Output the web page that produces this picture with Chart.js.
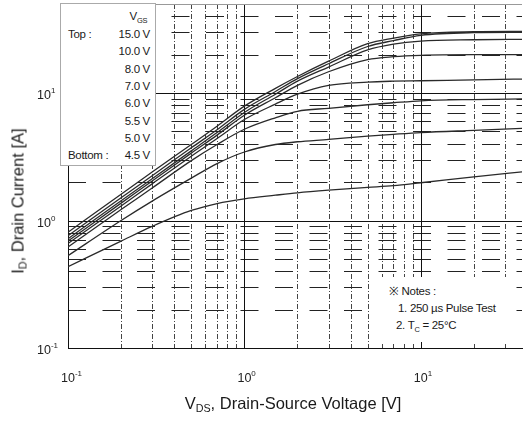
<!DOCTYPE html>
<html>
<head>
<meta charset="utf-8">
<script src="https://cdn.jsdelivr.net/npm/chart.js@4.4.0/dist/chart.umd.min.js"></script>
<style>
body { margin: 0; background: #fff; }
#wrap { position: relative; width: 523px; height: 421px; overflow: hidden;
        font-family: "Liberation Sans", Arial, sans-serif; color: #1a1a1a; }
#chart { position: absolute; left: 0; top: 0; }
#legendBox { position: absolute; left: 60px; top: 3px; width: 94px; height: 161px;
             background: #fff; border: 1px solid #aaa; font-size: 11.5px; letter-spacing: -0.3px; }
#legendBox .row { position: absolute; left: 0; width: 89px; height: 16px; line-height: 16px; }
#legendBox .name { position: absolute; left: 7px; }
#legendBox .val { position: absolute; right: 0; }
#notes { position: absolute; left: 378px; top: 277px; width: 130px; height: 65px;
         background: #fff; font-size: 11.5px; letter-spacing: -0.3px; line-height: 16.5px; }
#notes div { position: absolute; white-space: nowrap; }
sub { font-size: 65%; vertical-align: -3px; line-height: 0; }
#ytitle { position: absolute; left: 18px; top: 201px; white-space: nowrap; font-size: 16.5px;
          transform: translate(-50%, -50%) rotate(-90deg); }
#xtitle { position: absolute; left: 293px; top: 403px; white-space: nowrap; font-size: 16.5px;
          transform: translate(-50%, -50%); }
</style>
</head>
<body>
<div id="wrap">
  <canvas id="chart" width="523" height="421"></canvas>
  <div id="legendBox"></div>
  <div id="notes">
    <div style="left:11px;top:6px">※ Notes :</div>
    <div style="left:20px;top:23px">1. 250 µs Pulse Test</div>
    <div style="left:18px;top:40px">2. T<sub>C</sub> = 25°C</div>
  </div>
  <div id="ytitle">I<sub>D</sub>, Drain Current [A]</div>
  <div id="xtitle">V<sub>DS</sub>, Drain-Source Voltage [V]</div>
</div>
<script>
const vds = [0.1, 0.2, 0.3, 0.5, 0.7, 1, 1.5, 2, 3, 5, 7, 10, 20, 40];

// ID (A) for each VGS
const id150 = [0.81, 1.61, 2.4, 3.95, 5.5, 7.9, 10.9, 13.5, 17.8, 24.4, 27.0, 29.2, 30.3, 30.5];
const id100 = [0.76, 1.51, 2.25, 3.72, 5.15, 7.45, 10.3, 13.0, 17.0, 23.2, 25.8, 28.4, 29.8, 30.0];
const id80  = [0.72, 1.43, 2.13, 3.52, 4.9, 7.05, 9.8, 12.4, 16.0, 21.8, 24.2, 25.6, 26.2, 26.4];
const id70  = [0.69, 1.37, 2.04, 3.38, 4.68, 6.7, 9.2, 11.5, 14.7, 18.3, 19.3, 19.8, 20.0, 20.0];
const id60  = [0.66, 1.3, 1.94, 3.2, 4.4, 6.2, 8.2, 9.8, 11.5, 12.2, 12.4, 12.5, 12.7, 12.9];
const id55  = [0.62, 1.22, 1.8, 2.95, 3.95, 5.2, 6.4, 7.2, 7.6, 8.1, 8.4, 8.7, 8.9, 9.0];
const id50  = [0.53, 1.0, 1.42, 2.15, 2.8, 3.45, 3.95, 4.15, 4.33, 4.6, 4.75, 4.9, 5.1, 5.3];
const id45  = [0.435, 0.69, 0.9, 1.2, 1.36, 1.48, 1.58, 1.65, 1.73, 1.82, 1.88, 1.98, 2.2, 2.43];

const vgsLabels = ['15.0 V', '10.0 V', '8.0 V', '7.0 V', '6.0 V', '5.5 V', '5.0 V', '4.5 V'];
const series = [id150, id100, id80, id70, id60, id55, id50, id45];

// axis ticks
const xDecades = [0.1, 1, 10];
const yDecades = [0.1, 1, 10];
const xMinor = [0.2, 0.3, 0.4, 0.5, 0.6, 0.7, 0.8, 0.9, 2, 3, 4, 5, 6, 7, 8, 9, 20, 30];
const yMinor = [0.2, 0.3, 0.4, 0.5, 0.6, 0.7, 0.8, 0.9, 2, 3, 4, 5, 6, 7, 8, 9, 20, 30, 40];
const exps = { 0.1: '-1', 1: '0', 10: '1' };

// legend box rows
const legendBox = document.getElementById('legendBox');
legendBox.innerHTML = '<div class="row" style="top:4px"><span class="val">V<sub>GS</sub>&nbsp;</span></div>' +
    vgsLabels.map((lbl, i) => {
        let name = i === 0 ? 'Top :' : (i === vgsLabels.length - 1 ? 'Bottom :' : '');
        return `<div class="row" style="top:${22 + i * 17.3}px">
                  <span class="name">${name}</span><span class="val">${lbl}</span></div>`;
    }).join('');

const gridPlugin = {
    id: 'logGrid',
    beforeDatasetsDraw(chart) {
        const { ctx, chartArea: a, scales: { x, y } } = chart;
        const seg = (x1, y1, x2, y2) => { ctx.beginPath(); ctx.moveTo(x1, y1); ctx.lineTo(x2, y2); ctx.stroke(); };
        ctx.save();
        ctx.lineWidth = 1;
        ctx.strokeStyle = '#444';
        // minor verticals, dash-dot
        ctx.setLineDash([5, 2, 1, 2]);
        xMinor.forEach(v => {
            const px = Math.round(x.getPixelForValue(v)) + 0.5;
            if (px < a.right) seg(px, a.top, px, a.bottom);
        });
        // minor horizontals, long dashes
        ctx.strokeStyle = '#222';
        ctx.setLineDash([18, 16.5]);
        yMinor.forEach(v => {
            const py = Math.round(y.getPixelForValue(v)) + 0.5;
            seg(a.left, py, a.right, py);
        });
        // decades, solid
        ctx.setLineDash([]);
        ctx.strokeStyle = '#111';
        xDecades.forEach(v => {
            const px = Math.round(x.getPixelForValue(v)) + 0.5;
            seg(px, a.top, px, a.bottom);
        });
        yDecades.forEach(v => {
            const py = Math.round(y.getPixelForValue(v)) + 0.5;
            seg(a.left, py, a.right, py);
        });
        ctx.strokeStyle = '#999';
        seg(a.left, a.top + 0.5, a.right, a.top + 0.5);
        ctx.restore();
    },
    afterDraw(chart) {
        const { ctx, scales: { x, y } } = chart;
        ctx.save();
        ctx.fillStyle = '#222';
        ctx.textBaseline = 'alphabetic';
        const big = '12.5px "Liberation Sans", Arial, sans-serif';
        const small = '8px "Liberation Sans", Arial, sans-serif';
        // x tick labels
        xDecades.forEach(v => {
            const px = x.getPixelForValue(v);
            ctx.font = big;
            const w = ctx.measureText('10').width;
            ctx.fillText('10', px - w / 2, 382);
            ctx.font = small;
            ctx.fillText(exps[v], px + w / 2, 376);
        });
        // y tick labels
        yDecades.forEach(v => {
            const py = y.getPixelForValue(v);
            ctx.font = big;
            const w = ctx.measureText('10').width;
            ctx.fillText('10', 37, py + 6);
            ctx.font = small;
            ctx.fillText(exps[v], 37 + w, py);
        });
        ctx.restore();
    }
};

new Chart(document.getElementById('chart'), {
    type: 'line',
    data: {
        datasets: series.map((arr, i) => ({
            label: vgsLabels[i],
            data: vds.map((v, j) => ({ x: v, y: arr[j] })),
            borderColor: '#2a2a2a',
            borderWidth: 1.3,
            pointRadius: 0,
            cubicInterpolationMode: 'monotone',
            fill: false
        }))
    },
    options: {
        responsive: false,
        animation: false,
        layout: { padding: { left: 60, right: 1, top: 4, bottom: 65 } },
        plugins: { legend: { display: false }, tooltip: { enabled: false } },
        scales: {
            x: {
                type: 'logarithmic', min: 0.1, max: 37.5,
                grid: { display: false }, ticks: { display: false },
                border: { display: true, color: '#111', width: 1 }
            },
            y: {
                type: 'logarithmic', min: 0.1, max: 50,
                grid: { display: false }, ticks: { display: false },
                border: { display: true, color: '#111', width: 1 }
            }
        }
    },
    plugins: [gridPlugin]
});
</script>
</body>
</html>
